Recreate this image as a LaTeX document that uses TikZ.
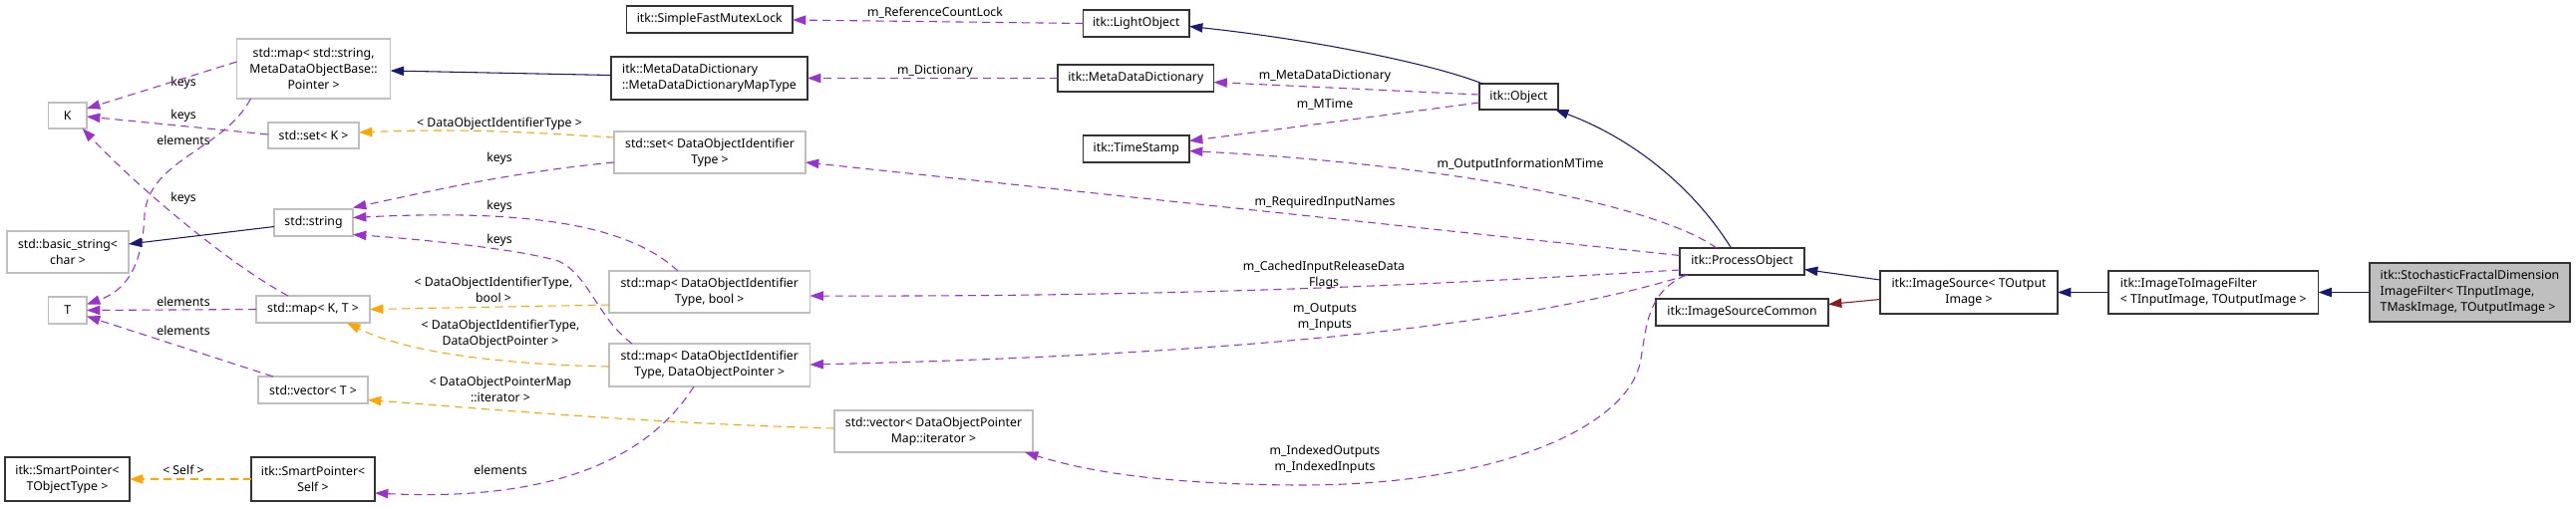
\documentclass[tikz,border=0pt]{standalone}
\usepackage{fontspec}
\setmainfont{Noto Sans}
\usetikzlibrary{arrows.meta,calc}
\definecolor{purp}{HTML}{9A32CD}
\definecolor{orng}{HTML}{FFA500}
\definecolor{navy}{HTML}{191970}
\definecolor{brick}{HTML}{8B1A1A}
\definecolor{gry}{HTML}{BFBFBF}
\newcommand\bx[7]{\node[#2, minimum width={(#5-#3)*0.75pt}, minimum height={(#6-#4)*0.75pt}] (#1) at ({(#3+#5)/2},{(#4+#6)/2}) {#7};}
\begin{document}
\begin{tikzpicture}[x=0.75pt,y=-0.75pt, font=\fontsize{9.2}{12}\selectfont,
 box/.style={draw=black!80, line width=0.9pt, fill=white, inner sep=0pt, outer sep=0pt, align=center},
 gbox/.style={box, draw=gry},
 lbox/.style={box, align=left},
 tip/.style={-{Triangle[length=10pt,width=7pt]}},
 mem/.style={draw=purp, dash pattern=on 6pt off 4pt, line width=0.8pt, tip},
 tpl/.style={mem, draw=orng},
 inh/.style={draw=navy, line width=0.8pt, tip},
 pinh/.style={inh, draw=brick},
 lbl/.style={inner sep=0pt, align=center}]
\path[fill=white] (0,0) rectangle (2584,508);
% nodes
\bx{sfml}{box}{628.5}{6}{795}{33}{itk::SimpleFastMutexLock}
\bx{lo}{box}{1086.5}{10}{1193}{37}{itk::LightObject}
\bx{mapt}{lbox}{613}{57}{810}{100}{itk::MetaDataDictionary\\::MetaDataDictionaryMapType}
\bx{mdd}{box}{1061}{65}{1217.5}{92}{itk::MetaDataDictionary}
\bx{mapstr}{gbox}{237.5}{39}{391.7}{99}{std::map< std::string,\\ MetaDataObjectBase::\\Pointer >}
\bx{K}{gbox}{48.5}{103}{87}{129}{K}
\bx{setK}{gbox}{269}{123}{360}{149}{std::set< K >}
\bx{str}{gbox}{275}{210}{354}{237}{std::string}
\bx{bstr}{gbox}{7}{232}{129}{274}{std::basic\_string<\\char >}
\bx{T}{gbox}{48.5}{298}{87}{325}{T}
\bx{mapKT}{gbox}{257}{297}{371}{324}{std::map< K, T >}
\bx{vecT}{gbox}{259}{378}{369}{405}{std::vector< T >}
\bx{spT}{box}{5}{459}{130}{503}{itk::SmartPointer<\\TObjectType >}
\bx{spS}{box}{252}{459}{376}{503}{itk::SmartPointer<\\Self >}
\bx{setD}{gbox}{616}{132}{808}{174}{std::set< DataObjectIdentifier\\Type >}
\bx{mapB}{gbox}{611}{272}{812.5}{314}{std::map< DataObjectIdentifier\\Type, bool >}
\bx{mapP}{gbox}{611}{345}{812.5}{388}{std::map< DataObjectIdentifier\\Type, DataObjectPointer >}
\bx{vecI}{gbox}{837}{412}{1036}{454}{std::vector< DataObjectPointer\\Map::iterator >}
\bx{ts}{box}{1086.5}{136}{1193}{163}{itk::TimeStamp}
\bx{obj}{box}{1484}{84}{1563}{110}{itk::Object}
\bx{po}{box}{1685}{249}{1810}{276}{itk::ProcessObject}
\bx{isc}{box}{1661}{300}{1834}{327}{itk::ImageSourceCommon}
\bx{is}{box}{1886}{272}{2064}{315}{itk::ImageSource< TOutput\\Image >}
\bx{itf}{lbox}{2115}{272}{2325.6}{315}{itk::ImageToImageFilter\\< TInputImage, TOutputImage >}
\bx{sfd}{lbox,fill=gry}{2377}{264}{2578}{323}{itk::StochasticFractalDimension\\ImageFilter< TInputImage,\\ TMaskImage, TOutputImage >}
% labels
\node[lbl] (l1) at (938,13) {m\_ReferenceCountLock};
\node[lbl] (l2) at (938,71) {m\_Dictionary};
\node[lbl] (l3) at (1329,76) {m\_MetaDataDictionary};
\node[lbl] (l4) at (1329,105) {m\_MTime};
\node[lbl] (l5) at (1525,165) {m\_OutputInformationMTime};
\node[lbl] (l6) at (1329,203) {m\_RequiredInputNames};
\node[lbl] (l7) at (1328,276) {m\_CachedInputReleaseData\\Flags};
\node[lbl] (l8) at (1329,319) {m\_Outputs\\m\_Inputs};
\node[lbl] (l9) at (1329,461) {m\_IndexedOutputs\\m\_IndexedInputs};
\node[lbl] (l10) at (184,83) {keys};
\node[lbl] (l11) at (184,116) {keys};
\node[lbl] (l12) at (184,141) {elements};
\node[lbl] (l13) at (184,199) {keys};
\node[lbl] (l14) at (184,303) {elements};
\node[lbl] (l15) at (184,332) {elements};
\node[lbl] (l16) at (184,472) {< Self >};
\node[lbl] (l17) at (501,124) {< DataObjectIdentifierType >};
\node[lbl] (l18) at (501,159) {keys};
\node[lbl] (l19) at (501,207) {keys};
\node[lbl] (l20) at (501,241) {keys};
\node[lbl] (l21) at (495,291) {< DataObjectIdentifierType,\\bool >};
\node[lbl] (l22) at (502,335) {< DataObjectIdentifierType,\\DataObjectPointer >};
\node[lbl] (l23) at (502,391) {< DataObjectPointerMap\\::iterator >};
\node[lbl] (l24) at (502,472) {elements};
% edges
\draw[mem] (lo.west) -- ($(sfml.east)+(0,0.5)$);
\draw[inh] ($(obj.north west)+(3,0)$) .. controls (1440,65) and (1320,40) .. ($(lo.east)+(0,3)$);
\draw[mem] ($(obj.west)+(0,-2)$) -- ($(mdd.east)+(0,4)$);
\draw[mem] ($(obj.west)+(0,6)$) -- ($(ts.east)+(0,-8)$);
\draw[mem] (mdd.west) -- (mapt.east);
\draw[inh] ($(mapt.west)+(0,-3)$) -- ($(mapstr.east)+(0,2)$);
\draw[mem] ($(mapstr.west)+(0,-7)$) -- ($(K.east)+(0,-7)$);
\draw[mem] ($(setK.west)+(0,-1)$) -- ($(K.east)+(0,1)$);
\draw[mem] ($(mapstr.south west)+(14,0)$) .. controls (225,150) and (150,160) .. (145,215) .. controls (143,270) and (125,292) .. ($(T.east)+(0,-6)$);
\draw[mem] ($(mapKT.north west)+(32,0)$) .. controls (230,265) and (140,190) .. ($(K.south)+(15,0)$);
\draw[mem] (mapKT.west) -- (T.east);
\draw[mem] ($(vecT.north west)+(15,0)$) -- ($(T.east)+(0,6)$);
\draw[inh] ($(str.west)+(0,4)$) -- ($(bstr.east)+(0,-8)$);
\draw[tpl] ($(setD.west)+(0,-15)$) .. controls (560,135) and (480,128) .. ($(setK.east)+(0,-3)$);
\draw[mem] ($(setD.west)+(0,10)$) .. controls (520,172) and (440,190) .. ($(str.east)+(0,-15)$);
\draw[mem] ($(mapB.north west)+(69,0)$) .. controls (640,235) and (560,208) .. ($(str.east)+(0,-5)$);
\draw[mem] ($(mapP.north west)+(23,0)$) .. controls (600,320) and (590,275) .. (560,262) .. controls (520,250) and (420,240) .. ($(str.east)+(0,12)$);
\draw[tpl] ($(mapB.west)+(0,13)$) -- (mapKT.east);
\draw[tpl] ($(mapP.west)+(0,1.5)$) .. controls (480,365) and (400,350) .. ($(mapKT.south east)+(-23,0)$);
\draw[tpl] ($(vecI.west)+(0,-3)$) .. controls (650,425) and (480,410) .. ($(vecT.east)+(0,10)$);
\draw[tpl] (spS.west) -- (spT.east);
\draw[mem] ($(mapP.south west)+(85,0)$) .. controls (660,445) and (580,505) .. ($(spS.east)+(0,14)$);
\draw[mem] ($(po.west)+(0,-6)$) -- ($(setD.east)+(0,10)$);
\draw[mem] ($(po.north west)+(37,0)$) .. controls (1660,205) and (1450,165) .. ($(ts.east)+(0,2)$);
\draw[mem] ($(po.west)+(0,8.5)$) .. controls (1450,285) and (1200,298) .. ($(mapB.east)+(0,4)$);
\draw[mem] ($(po.south west)+(8,0)$) .. controls (1560,318) and (1300,355) .. ($(mapP.east)+(0,-0.5)$);
\draw[mem] ($(po.south west)+(6,0)$) .. controls (1650,295) and (1652,330) .. (1645,365) .. controls (1630,430) and (1500,488) .. (1300,487) .. controls (1150,486) and (1080,470) .. ($(vecI.south east)+(-8,0)$);
\draw[inh] ($(po.north)+(-11,0)$) .. controls (1700,190) and (1640,140) .. ($(obj.south east)+(-3,0)$);
\draw[inh] ($(is.west)+(0,-12.5)$) -- ($(po.east)+(0,8)$);
\draw[pinh] ($(is.west)+(0,7)$) -- ($(isc.east)+(0,-8)$);
\draw[inh] (itf.west) -- (is.east);
\draw[inh] (sfd.west) -- (itf.east);
\end{tikzpicture}
\end{document}
